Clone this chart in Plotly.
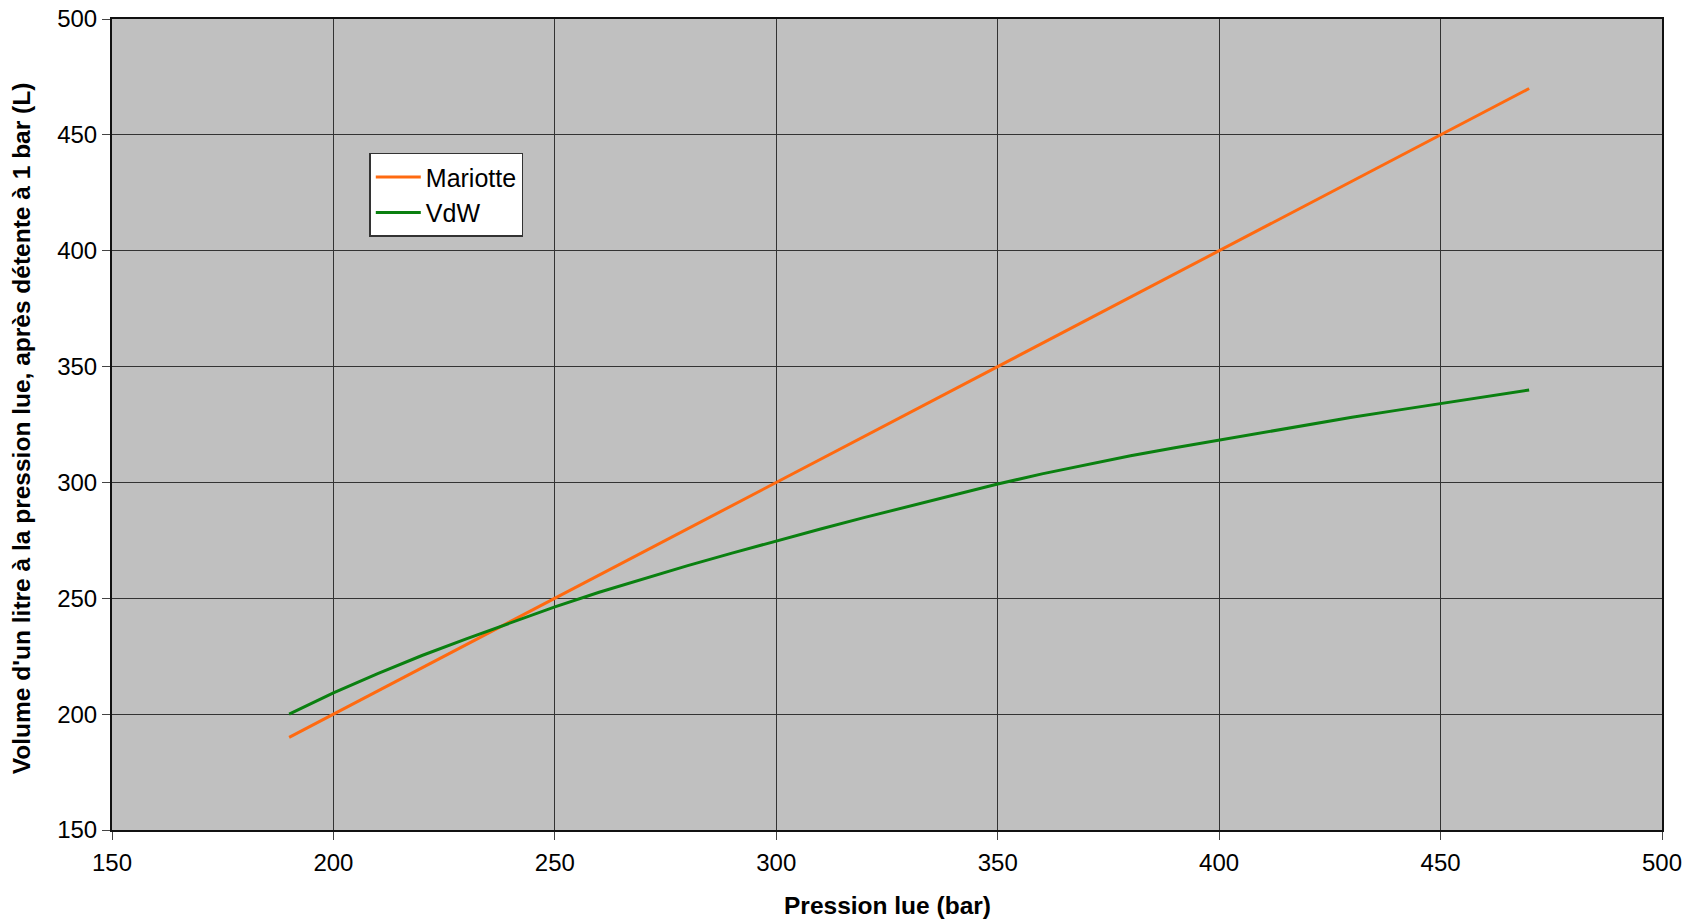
import plotly.graph_objects as go

pression = [190, 200, 210, 220, 230, 240, 250, 260, 270, 280, 290, 300, 310, 320, 330,
            340, 350, 360, 370, 380, 390, 400, 410, 420, 430, 440, 450, 460, 470]
mariotte = [190, 200, 210, 220, 230, 240, 250, 260, 270, 280, 290, 300, 310, 320, 330,
            340, 350, 360, 370, 380, 390, 400, 410, 420, 430, 440, 450, 460, 470]
vdw = [200.0, 209.2, 217.5, 225.3, 232.5, 239.4, 246.3, 252.6, 258.5, 264.1, 269.5, 274.8,
       279.9, 284.9, 289.8, 294.6, 299.3, 303.7, 307.7, 311.5, 315.0, 318.3, 321.7, 325.0,
       328.1, 331.1, 334.1, 337.0, 339.9]

x_ticks = [150, 200, 250, 300, 350, 400, 450, 500]
y_ticks = [150, 200, 250, 300, 350, 400, 450, 500]

x_title = "Pression lue (bar)"
y_title = "Volume d'un litre à la pression lue, après détente à 1 bar (L)"

fig = go.Figure()
fig.add_trace(go.Scatter(x=pression, y=mariotte, mode="lines", name="Mariotte",
                         legendgroup="a",
                         line=dict(color="#FF6A10", width=3)))
fig.add_trace(go.Scatter(x=pression, y=vdw, mode="lines", name="VdW",
                         legendgroup="b",
                         line=dict(color="#0A8010", width=3)))

font_family = "Liberation Sans, Arial, sans-serif"
axis_common = dict(
    showgrid=True, gridcolor="#333333", gridwidth=1.3,
    showline=True, linecolor="#111111", linewidth=2, mirror=True,
    ticks="outside", ticklen=8, tickcolor="#444444", tickwidth=1.3,
    zeroline=False, automargin=False, ticklabeloverflow="allow",
)
# the page body adds an 8px offset; figure size/margins compensate for it
fig.update_layout(
    width=1686, height=916,
    margin=dict(l=104, r=32, t=11, b=94),
    paper_bgcolor="white",
    plot_bgcolor="#C0C0C0",
    font=dict(family=font_family, size=24, color="black"),
    showlegend=True,
    legend=dict(x=0.166, y=0.835, xanchor="left", yanchor="top",
                traceorder="grouped", tracegroupgap=0, itemwidth=45,
                bgcolor="white", bordercolor="#333333", borderwidth=1.5,
                font=dict(size=25, color="black")),
    xaxis=dict(range=[150, 500], tickvals=x_ticks, ticktext=[str(v) for v in x_ticks],
               ticklabelstandoff=2, **axis_common),
    yaxis=dict(range=[150, 500], tickvals=y_ticks, ticktext=[str(v) for v in y_ticks],
               ticklabelstandoff=0, **axis_common),
    annotations=[
        dict(text="<b>" + x_title + "</b>", xref="paper", yref="paper",
             x=0.5, y=-0.0925, xanchor="center", yanchor="middle", showarrow=False,
             font=dict(size=24.5)),
        dict(text="<b>" + y_title + "</b>", xref="paper", yref="paper",
             x=-0.0583, y=0.495, xanchor="center", yanchor="middle", showarrow=False,
             textangle=-90, font=dict(size=24.5)),
    ],
)

fig.write_html("out.html")
